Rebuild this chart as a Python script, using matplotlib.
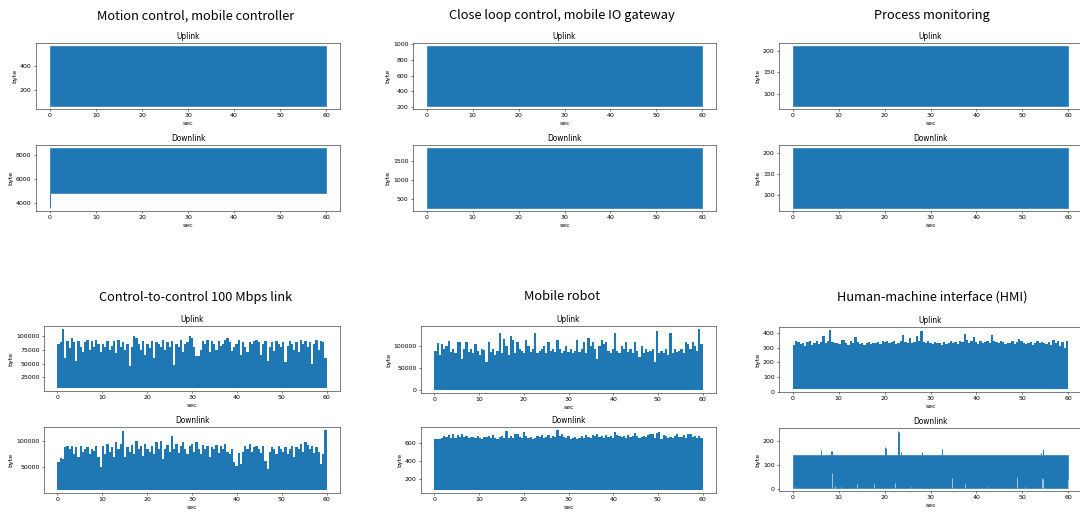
import numpy as np
import matplotlib
matplotlib.use('Agg')
import matplotlib.pyplot as plt

# canvas: 1080 x 514 px, drawn at a low dpi so the default sizes shrink like the original
W, H, DPI = 1080, 514, 45

titles = ['Motion control, mobile controller', 'Close loop control, mobile IO gateway',
          'Process monitoring', 'Control-to-control 100 Mbps link', 'Mobile robot',
          'Human-machine interface (HMI)']

# flat bands (low, high) in byte
motion_up = [67, 565]
motion_dn = [4850, 8560]
motion_dn_first = 3600
gateway_up = [208, 980]
gateway_dn = [265, 1850]
monitor_up = [71, 211]
monitor_dn = [70, 211]

# noisy series: peak per 0.5 s, 0..60 s
c2c_up_base = 6000
c2c_up_k = [85, 88, 112, 60, 90, 78, 95, 88, 55, 90,
            80, 70, 88, 92, 75, 90, 80, 92, 85, 70,
            85, 80, 90, 75, 82, 90, 68, 92, 80, 88,
            75, 85, 45, 80, 100, 95, 85, 75, 90, 65,
            85, 78, 90, 60, 88, 85, 80, 92, 75, 88,
            80, 90, 48, 85, 80, 92, 70, 85, 88, 100,
            95, 80, 63, 63, 75, 90, 85, 92, 70, 90,
            85, 75, 90, 82, 85, 92, 95, 88, 72, 80,
            85, 92, 65, 88, 80, 70, 88, 85, 90, 92,
            88, 65, 85, 90, 55, 80, 88, 72, 90, 85,
            80, 88, 52, 82, 90, 85, 75, 88, 70, 92,
            85, 90, 80, 88, 50, 85, 92, 75, 90, 88,
            60]

c2c_dn_base = 5000
c2c_dn_k = [60, 68, 65, 88, 90, 85, 90, 75, 88, 70,
            90, 80, 85, 88, 75, 85, 82, 90, 70, 50,
            90, 75, 95, 80, 88, 70, 98, 85, 95, 120,
            70, 88, 80, 92, 75, 100, 85, 90, 72, 95,
            85, 80, 90, 75, 98, 85, 100, 65, 85, 92,
            80, 110, 85, 95, 78, 90, 98, 85, 75, 90,
            95, 80, 98, 85, 75, 92, 85, 90, 70, 88,
            85, 92, 78, 90, 85, 95, 80, 75, 85, 60,
            52, 78, 55, 80, 90, 85, 95, 80, 88, 90,
            85, 78, 90, 62, 46, 80, 88, 85, 75, 90,
            85, 80, 88, 75, 85, 90, 70, 88, 85, 95,
            80, 98, 92, 85, 90, 78, 88, 80, 55, 75,
            122]

robot_up_base = 300
robot_up_k = [90, 108, 80, 105, 95, 100, 112, 88, 95, 85,
              110, 110, 72, 95, 110, 88, 95, 85, 105, 90,
              80, 95, 92, 65, 110, 88, 95, 80, 90, 130,
              85, 118, 100, 80, 125, 115, 85, 110, 95, 90,
              85, 115, 100, 88, 95, 130, 85, 90, 95, 100,
              85, 110, 90, 95, 88, 115, 95, 85, 90, 100,
              88, 95, 85, 90, 115, 88, 95, 110, 85, 120,
              100, 110, 95, 72, 100, 115, 105, 110, 90, 85,
              95, 130, 90, 85, 100, 95, 110, 88, 95, 85,
              110, 90, 75, 100, 85, 95, 88, 90, 95, 65,
              135, 85, 90, 85, 95, 80, 130, 85, 95, 88,
              90, 95, 85, 110, 105, 95, 110, 100, 90, 140,
              105]

robot_dn_base = 75
robot_dn = [640, 650, 645, 660, 680, 670, 690, 660, 700, 655,
            690, 665, 700, 670, 680, 655, 665, 670, 660, 675,
            660, 650, 665, 670, 680, 660, 690, 660, 650, 665,
            675, 660, 730, 660, 680, 660, 695, 700, 665, 655,
            720, 680, 660, 670, 650, 660, 680, 665, 690, 660,
            670, 690, 660, 675, 665, 745, 680, 700, 670, 660,
            680, 650, 660, 670, 650, 660, 680, 660, 690, 670,
            660, 690, 680, 700, 665, 680, 660, 690, 670, 680,
            660, 725, 690, 680, 670, 680, 660, 690, 665, 675,
            710, 680, 660, 670, 680, 665, 690, 700, 705, 660,
            715, 720, 640, 690, 680, 660, 670, 660, 680, 695,
            670, 665, 690, 660, 705, 695, 670, 680, 660, 675,
            660]

hmi_up_base = 20
hmi_up = [320, 345, 340, 325, 330, 310, 340, 345, 320, 335,
          345, 325, 340, 380, 330, 345, 420, 340, 335, 330,
          325, 350, 355, 335, 320, 345, 330, 370, 340, 325,
          335, 320, 330, 340, 325, 335, 330, 340, 325, 345,
          340, 345, 330, 340, 345, 325, 335, 345, 385, 340,
          335, 365, 330, 340, 380, 345, 410, 340, 335, 345,
          330, 325, 340, 330, 335, 320, 340, 325, 335, 345,
          330, 340, 325, 345, 340, 390, 350, 335, 345, 370,
          340, 325, 345, 335, 340, 345, 330, 385, 345, 340,
          335, 345, 340, 325, 335, 330, 345, 325, 340, 360,
          345, 330, 325, 335, 340, 320, 335, 345, 330, 340,
          335, 325, 340, 320, 350, 330, 345, 310, 340, 300,
          345]

# HMI downlink: flat band with a few bursts above and a few raised minima below
hmi_dn = [2, 143]
hmi_dn_spike_t = [6.2, 8.4, 8.6, 20.0, 20.2, 23.0, 23.1, 23.5, 28.2, 32.4, 54.1, 54.4]
hmi_dn_spike_v = [162, 158, 160, 175, 172, 245, 240, 155, 155, 168, 150, 168]
hmi_dn_gap_t = [0.5, 8.6, 9.3, 10.5, 14.0, 17.7, 22.3, 25.8, 34.6, 37.5, 42.5, 48.8, 50.5, 54.2, 54.4, 59.9]
hmi_dn_gap_v = [5, 65, 10, 8, 18, 20, 22, 8, 45, 18, 6, 50, 8, 45, 40, 38]

# y ticks per panel (uplink, downlink)
yticks = [
    ([200, 400], [4000, 6000, 8000]),
    ([200, 400, 600, 800, 1000], [500, 1000, 1500]),
    ([100, 150, 200], [100, 150, 200]),
    ([25000, 50000, 75000, 100000], [50000, 100000]),
    ([0, 50000, 100000], [200, 400, 600]),
    ([0, 100, 200, 300, 400], [0, 100, 200]),
]

# axes boxes in pixels: left, top, right, bottom
boxes = [
    [(36, 43, 340, 109), (36, 145, 340, 211)],
    [(413, 43, 716, 109), (413, 145, 716, 211)],
    [(779, 43, 1082, 109), (779, 145, 1082, 211)],
    [(44, 326, 340, 391), (44, 427, 340, 493)],
    [(421, 326, 716, 393), (421, 427, 716, 493)],
    [(779, 327, 1082, 392), (779, 428, 1082, 491)],
]
title_pos = [(196, 16), (562, 16), (932, 16), (196, 297), (562, 297), (932, 297)]


def px_axes(fig, box):
    l, t, r, b = box
    return fig.add_axes([l / W, 1 - b / H, (r - l) / W, (b - t) / H])


def band(ax, lo, hi):
    ax.fill_between([0, 60], lo, hi, color='C0', edgecolor='C0', lw=1.0)


def noisy(ax, base, peaks):
    edges = np.linspace(0, 60, len(peaks) + 1)
    st = ax.stairs(peaks, edges, baseline=base, fill=True, color='C0')
    st.sticky_edges.y[:] = []
    st.sticky_edges.x[:] = []


fig = plt.figure(figsize=(W / DPI, H / DPI), dpi=DPI)

axes = []
for i, pair in enumerate(boxes):
    up = px_axes(fig, pair[0])
    dn = px_axes(fig, pair[1])
    axes.append((up, dn))
    fig.text(title_pos[i][0] / W, 1 - title_pos[i][1] / H, titles[i], ha='center', va='center',
             fontsize=20.5, family=['Noto Sans CJK KR', 'DejaVu Sans'])

band(axes[0][0], *motion_up)
band(axes[0][1], *motion_dn)
axes[0][1].vlines(0, motion_dn_first, motion_dn[0], color='C0', lw=1.5)
band(axes[1][0], *gateway_up)
band(axes[1][1], *gateway_dn)
band(axes[2][0], *monitor_up)
band(axes[2][1], *monitor_dn)

noisy(axes[3][0], c2c_up_base, np.array(c2c_up_k) * 1000)
noisy(axes[3][1], c2c_dn_base, np.array(c2c_dn_k) * 1000)
noisy(axes[4][0], robot_up_base, np.array(robot_up_k) * 1000)
noisy(axes[4][1], robot_dn_base, robot_dn)
noisy(axes[5][0], hmi_up_base, hmi_up)

ax = axes[5][1]
band(ax, *hmi_dn)
ax.vlines(hmi_dn_spike_t, hmi_dn[1], hmi_dn_spike_v, color='C0', lw=1.5)
ax.vlines(hmi_dn_gap_t, hmi_dn[0], hmi_dn_gap_v, color='white', lw=0.9)

for i, (up, dn) in enumerate(axes):
    for ax, name, yt in ((up, 'Uplink', yticks[i][0]), (dn, 'Downlink', yticks[i][1])):
        ax.set_title(name)
        ax.set_xlabel('sec')
        ax.set_ylabel('byte')
        ax.set_xlim(-3, 63)
        ax.set_yticks(yt)

fig.savefig('out.png', dpi=DPI, facecolor='white')
